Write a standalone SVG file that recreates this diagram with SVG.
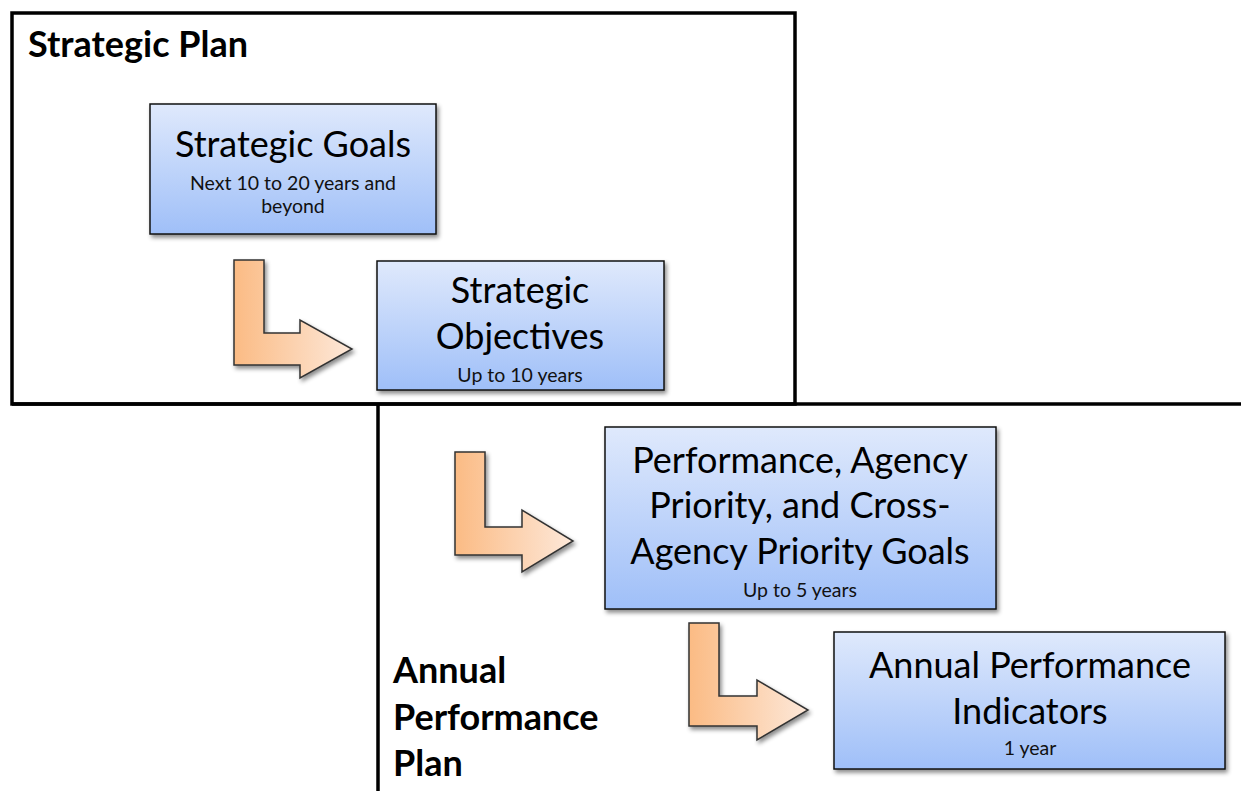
<svg xmlns="http://www.w3.org/2000/svg" width="1241" height="791" viewBox="0 0 1241 791">
<defs>
  <linearGradient id="boxGrad" x1="0" y1="0" x2="0" y2="1">
    <stop offset="0" stop-color="#dfe9fc"/>
    <stop offset="1" stop-color="#9fbff8"/>
  </linearGradient>
  <linearGradient id="arrGrad" x1="0" y1="0" x2="1" y2="0">
    <stop offset="0" stop-color="#fbbb84"/>
    <stop offset="1" stop-color="#fde8d9"/>
  </linearGradient>
  <filter id="shadow" x="-10%" y="-10%" width="130%" height="130%">
    <feDropShadow dx="2" dy="3" stdDeviation="2" flood-color="#000" flood-opacity="0.45"/>
  </filter>
</defs>
<style>
  .frame { fill: none; stroke: #000; stroke-width: 3.5; }
  .box { fill: url(#boxGrad); stroke: #111; stroke-width: 1.5; filter: url(#shadow); }
  .arrow { fill: url(#arrGrad); stroke: #333; stroke-width: 1.5; stroke-linejoin: miter; filter: url(#shadow); }
  .big { font-family: Lato, "Open Sans", sans-serif; font-size: 36px; fill: #000; text-anchor: middle; }
  .small { font-family: Lato, "Open Sans", sans-serif; font-size: 19.5px; fill: #111; text-anchor: middle; }
  .title { font-family: Lato, "Open Sans", sans-serif; font-size: 36px; font-weight: bold; fill: #000; }
</style>
<rect width="1241" height="791" fill="#fff"/>

<g id="strategic-plan">
  <rect class="frame" x="12" y="13" width="783" height="391"/>
  <text class="title" x="28" y="57">Strategic Plan</text>
</g>
<g id="annual-performance-plan">
  <path class="frame" d="M12 404 H1245 M378 404 V795"/>
  <text class="title" x="393" y="683">Annual</text>
  <text class="title" x="393" y="730">Performance</text>
  <text class="title" x="393" y="776">Plan</text>
</g>

<g id="connectors">
  <path class="arrow" d="M234 260 H264 V333 H300 V320 L352 349 L300 378 V365 H234 Z"/>
  <path class="arrow" d="M455 452 H485 V527 H522 V510 L573 541 L522 572 V555 H455 Z"/>
  <path class="arrow" d="M689 623 H719 V696 H757 V680 L808 710 L757 740 V726 H689 Z"/>
</g>

<g id="strategic-goals">
  <rect class="box" x="150" y="104" width="286" height="130"/>
  <text class="big" x="293" y="157">Strategic Goals</text>
  <text class="small" x="293" y="190">Next 10 to 20 years and</text>
  <text class="small" x="293" y="213">beyond</text>
</g>
<g id="strategic-objectives">
  <rect class="box" x="377" y="261" width="287" height="129"/>
  <text class="big" x="520" y="303">Strategic</text>
  <text class="big" x="520" y="349">Objectives</text>
  <text class="small" x="520" y="382">Up to 10 years</text>
</g>
<g id="performance-goals">
  <rect class="box" x="605" y="427" width="391" height="182"/>
  <text class="big" x="800" y="473">Performance, Agency</text>
  <text class="big" x="800" y="518">Priority, and Cross-</text>
  <text class="big" x="800" y="564">Agency Priority Goals</text>
  <text class="small" x="800" y="597">Up to 5 years</text>
</g>
<g id="annual-performance-indicators">
  <rect class="box" x="834" y="632" width="391" height="137"/>
  <text class="big" x="1030" y="678">Annual Performance</text>
  <text class="big" x="1030" y="724">Indicators</text>
  <text class="small" x="1030" y="755">1 year</text>
</g>
</svg>
